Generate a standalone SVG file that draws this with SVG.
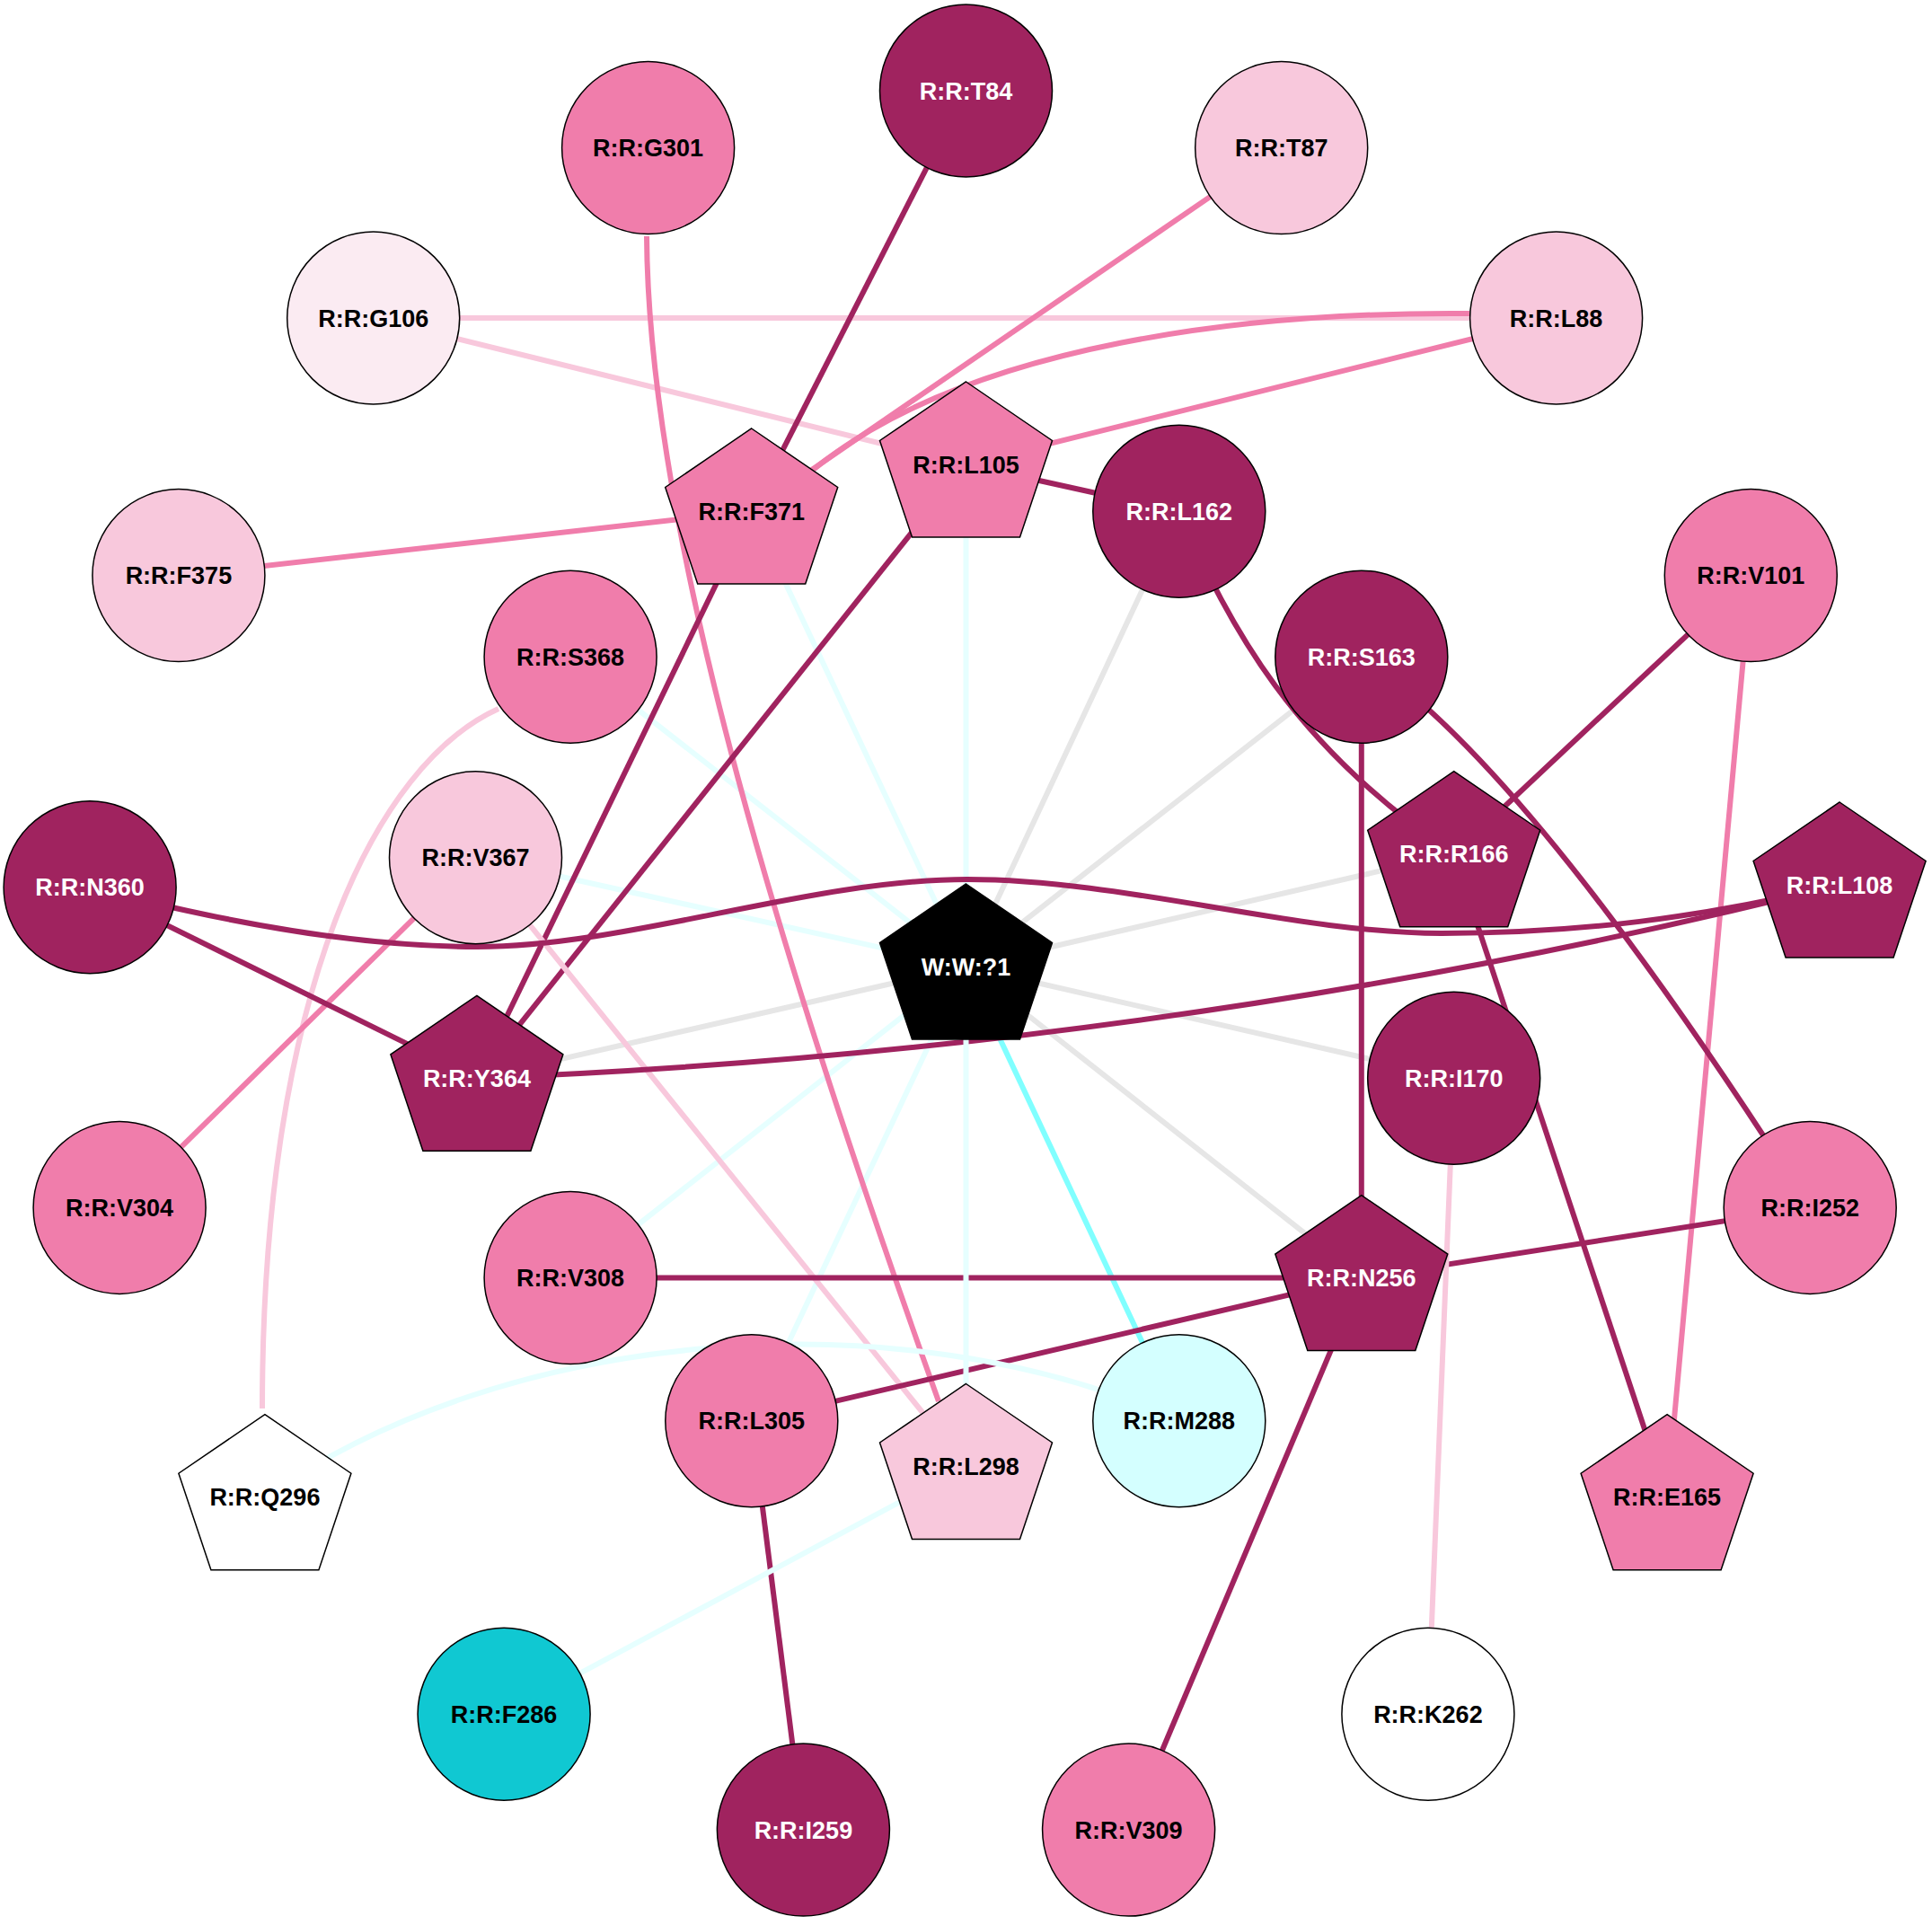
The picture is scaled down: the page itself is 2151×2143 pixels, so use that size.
<svg xmlns="http://www.w3.org/2000/svg" xmlns:xlink="http://www.w3.org/1999/xlink" width="2151" height="2143" viewBox="0 0 2151 2143">
<style>
.e{fill:none;stroke-width:6}
.dk{stroke:#A0235F}
.md{stroke:#F07DAB}
.lt{stroke:#F8C8DC}
.gr{stroke:#E6E6E6}
.cy{stroke:#E6FFFF}
.cb{stroke:#80FFFF}
.n{stroke:#000;stroke-width:1.5}
.t{font-family:"Liberation Sans",Arial,sans-serif;font-weight:bold;font-size:27px;text-anchor:middle}
.b{fill:#000}
.w{fill:#fff}
.fdk{fill:#A0235F}
.fmd{fill:#F07DAB}
.flt{fill:#F8C8DC}
.fvl{fill:#FBEBF2}
.fwh{fill:#fff}
.fcy{fill:#D4FFFF}
.ftl{fill:#10C8D2}
.fbk{fill:#000}
</style>
<defs>
<polygon id="pent" points="0,-92 96,-26.5 60,81 -60,81 -96,-26.5"/>
</defs>
<rect width="2151" height="2143" fill="#fff"/>
<g id="connectors">
<line class="e cy" x1="1075.5" y1="1076" x2="1075.5" y2="517"/>
<line class="e cy" x1="1075.5" y1="1076" x2="836.7" y2="569"/>
<line class="e cy" x1="1075.5" y1="1076" x2="635.1" y2="731.2"/>
<line class="e cy" x1="1075.5" y1="1076" x2="529.5" y2="954.8"/>
<line class="e cy" x1="1075.5" y1="1076" x2="635.1" y2="1422.6"/>
<line class="e cy" x1="1075.5" y1="1076" x2="836.8" y2="1581.7"/>
<line class="e gr" x1="1075.5" y1="1076" x2="1312.8" y2="569.3"/>
<line class="e gr" x1="1075.5" y1="1076" x2="1515.8" y2="731.2"/>
<line class="e gr" x1="1075.5" y1="1076" x2="1618.7" y2="950.7"/>
<line class="e gr" x1="1075.5" y1="1076" x2="530.9" y2="1200.3"/>
<line class="e gr" x1="1075.5" y1="1076" x2="1618.7" y2="1200.3"/>
<line class="e gr" x1="1075.5" y1="1076" x2="1515.8" y2="1422.6"/>
<line class="e cb" x1="1075.5" y1="1076" x2="1312.8" y2="1581.7"/>
<line class="e lt" x1="415.7" y1="354" x2="1732.6" y2="354"/>
<line class="e lt" x1="415.7" y1="354" x2="1075.5" y2="517"/>
<line class="e md" x1="1732.6" y1="354" x2="1075.5" y2="517"/>
<path class="e md" d="M1636,349 C1400,347 1080,380 904,524"/>
<line class="e md" x1="1426.7" y1="164.6" x2="836.7" y2="569"/>
<line class="e dk" x1="1075.5" y1="101" x2="836.7" y2="569"/>
<path class="e md" d="M720,263 C722,600 880,1100 1045,1560"/>
<line class="e md" x1="836.7" y1="569" x2="198.9" y2="640.6"/>
<line class="e dk" x1="836.7" y1="569" x2="530.9" y2="1200.3"/>
<line class="e dk" x1="1075.5" y1="517" x2="530.9" y2="1200.3"/>
<line class="e dk" x1="1075.5" y1="517" x2="1312.8" y2="569.3"/>
<path class="e dk" d="M1312.8,569.3 C1370,700 1440,830 1618.7,950.7"/>
<line class="e dk" x1="1949.3" y1="640.6" x2="1618.7" y2="950.7"/>
<line class="e md" x1="1949.3" y1="640.6" x2="1856.1" y2="1666.7"/>
<line class="e dk" x1="1515.8" y1="731.2" x2="1515.8" y2="1422.6"/>
<path class="e dk" d="M1515.8,731.2 Q1700,850 2015.2,1344.4"/>
<line class="e dk" x1="1618.7" y1="950.7" x2="1856.1" y2="1666.7"/>
<path class="e lt" d="M555,789 C420,850 292,1100 292,1568"/>
<line class="e md" x1="529.5" y1="954.8" x2="133.1" y2="1344.4"/>
<line class="e lt" x1="529.5" y1="954.8" x2="1075.5" y2="1632.5"/>
<path class="e dk" d="M100,988 C320,1045 450,1054 531,1054 C700,1054 900,979 1077,979 C1254,979 1440,1039 1605,1039 C1760,1039 1890,1022 2048,985"/>
<line class="e dk" x1="100.1" y1="987.7" x2="530.9" y2="1200.3"/>
<path class="e dk" d="M530.9,1200.3 Q1310,1170 2048.1,985"/>
<line class="e dk" x1="635.1" y1="1422.6" x2="1515.8" y2="1422.6"/>
<line class="e dk" x1="2015.2" y1="1344.4" x2="1515.8" y2="1422.6"/>
<line class="e dk" x1="1515.8" y1="1422.6" x2="836.8" y2="1581.7"/>
<line class="e dk" x1="1515.8" y1="1422.6" x2="1256.6" y2="2037.1"/>
<line class="e dk" x1="836.8" y1="1581.7" x2="894.4" y2="2037.1"/>
<line class="e lt" x1="1618.7" y1="1200.3" x2="1589.9" y2="1908.2"/>
<line class="e cy" x1="1075.5" y1="1632.5" x2="561.1" y2="1908.2"/>
<path class="e cy" d="M294.9,1666.7 C560,1480 1000,1440 1312.8,1581.7"/>
<line class="e cy" x1="1075.5" y1="1076" x2="1075.5" y2="1632.5"/>
</g>
<g id="T84"><circle class="n fdk" cx="1075.5" cy="101" r="96"/><text class="t w" x="1075.5" y="110.5">R:R:T84</text></g>
<g id="G301"><circle class="n fmd" cx="721.6" cy="164.6" r="96"/><text class="t b" x="721.6" y="174">R:R:G301</text></g>
<g id="T87"><circle class="n flt" cx="1426.7" cy="164.6" r="96"/><text class="t b" x="1426.7" y="174">R:R:T87</text></g>
<g id="G106"><circle class="n fvl" cx="415.7" cy="354" r="96"/><text class="t b" x="415.7" y="363.5">R:R:G106</text></g>
<g id="L88"><circle class="n flt" cx="1732.6" cy="354" r="96"/><text class="t b" x="1732.6" y="363.5">R:R:L88</text></g>
<g id="L105"><use xlink:href="#pent" class="n fmd" x="1075.5" y="517"/><text class="t b" x="1075.5" y="526.5">R:R:L105</text></g>
<g id="F371"><use xlink:href="#pent" class="n fmd" x="836.7" y="569"/><text class="t b" x="836.7" y="578.5">R:R:F371</text></g>
<g id="L162"><circle class="n fdk" cx="1312.8" cy="569.3" r="96"/><text class="t w" x="1312.8" y="578.8">R:R:L162</text></g>
<g id="F375"><circle class="n flt" cx="198.9" cy="640.6" r="96"/><text class="t b" x="198.9" y="650">R:R:F375</text></g>
<g id="V101"><circle class="n fmd" cx="1949.3" cy="640.6" r="96"/><text class="t b" x="1949.3" y="650">R:R:V101</text></g>
<g id="S368"><circle class="n fmd" cx="635.1" cy="731.2" r="96"/><text class="t b" x="635.1" y="740.7">R:R:S368</text></g>
<g id="S163"><circle class="n fdk" cx="1515.8" cy="731.2" r="96"/><text class="t w" x="1515.8" y="740.7">R:R:S163</text></g>
<g id="V367"><circle class="n flt" cx="529.5" cy="954.8" r="96"/><text class="t b" x="529.5" y="964.3">R:R:V367</text></g>
<g id="N360"><circle class="n fdk" cx="100.1" cy="987.7" r="96"/><text class="t w" x="100.1" y="997.2">R:R:N360</text></g>
<g id="R166"><use xlink:href="#pent" class="n fdk" x="1618.7" y="950.7"/><text class="t w" x="1618.7" y="960.2">R:R:R166</text></g>
<g id="L108"><use xlink:href="#pent" class="n fdk" x="2048.1" y="985"/><text class="t w" x="2048.1" y="994.5">R:R:L108</text></g>
<g id="W1"><use xlink:href="#pent" class="n fbk" x="1075.5" y="1076"/><text class="t w" x="1075.5" y="1085.5">W:W:?1</text></g>
<g id="Y364"><use xlink:href="#pent" class="n fdk" x="530.9" y="1200.3"/><text class="t w" x="530.9" y="1209.8">R:R:Y364</text></g>
<g id="I170"><circle class="n fdk" cx="1618.7" cy="1200.3" r="96"/><text class="t w" x="1618.7" y="1209.8">R:R:I170</text></g>
<g id="V304"><circle class="n fmd" cx="133.1" cy="1344.4" r="96"/><text class="t b" x="133.1" y="1353.9">R:R:V304</text></g>
<g id="I252"><circle class="n fmd" cx="2015.2" cy="1344.4" r="96"/><text class="t b" x="2015.2" y="1353.9">R:R:I252</text></g>
<g id="V308"><circle class="n fmd" cx="635.1" cy="1422.6" r="96"/><text class="t b" x="635.1" y="1432.1">R:R:V308</text></g>
<g id="N256"><use xlink:href="#pent" class="n fdk" x="1515.8" y="1422.6"/><text class="t w" x="1515.8" y="1432.1">R:R:N256</text></g>
<g id="L305"><circle class="n fmd" cx="836.8" cy="1581.7" r="96"/><text class="t b" x="836.8" y="1591.2">R:R:L305</text></g>
<g id="L298"><use xlink:href="#pent" class="n flt" x="1075.5" y="1632.5"/><text class="t b" x="1075.5" y="1642">R:R:L298</text></g>
<g id="M288"><circle class="n fcy" cx="1312.8" cy="1581.7" r="96"/><text class="t b" x="1312.8" y="1591.2">R:R:M288</text></g>
<g id="Q296"><use xlink:href="#pent" class="n fwh" x="294.9" y="1666.7"/><text class="t b" x="294.9" y="1676.2">R:R:Q296</text></g>
<g id="E165"><use xlink:href="#pent" class="n fmd" x="1856.1" y="1666.7"/><text class="t b" x="1856.1" y="1676.2">R:R:E165</text></g>
<g id="F286"><circle class="n ftl" cx="561.1" cy="1908.2" r="96"/><text class="t b" x="561.1" y="1917.7">R:R:F286</text></g>
<g id="K262"><circle class="n fwh" cx="1589.9" cy="1908.2" r="96"/><text class="t b" x="1589.9" y="1917.7">R:R:K262</text></g>
<g id="I259"><circle class="n fdk" cx="894.4" cy="2037.1" r="96"/><text class="t w" x="894.4" y="2046.6">R:R:I259</text></g>
<g id="V309"><circle class="n fmd" cx="1256.6" cy="2037.1" r="96"/><text class="t b" x="1256.6" y="2046.6">R:R:V309</text></g>
</svg>
